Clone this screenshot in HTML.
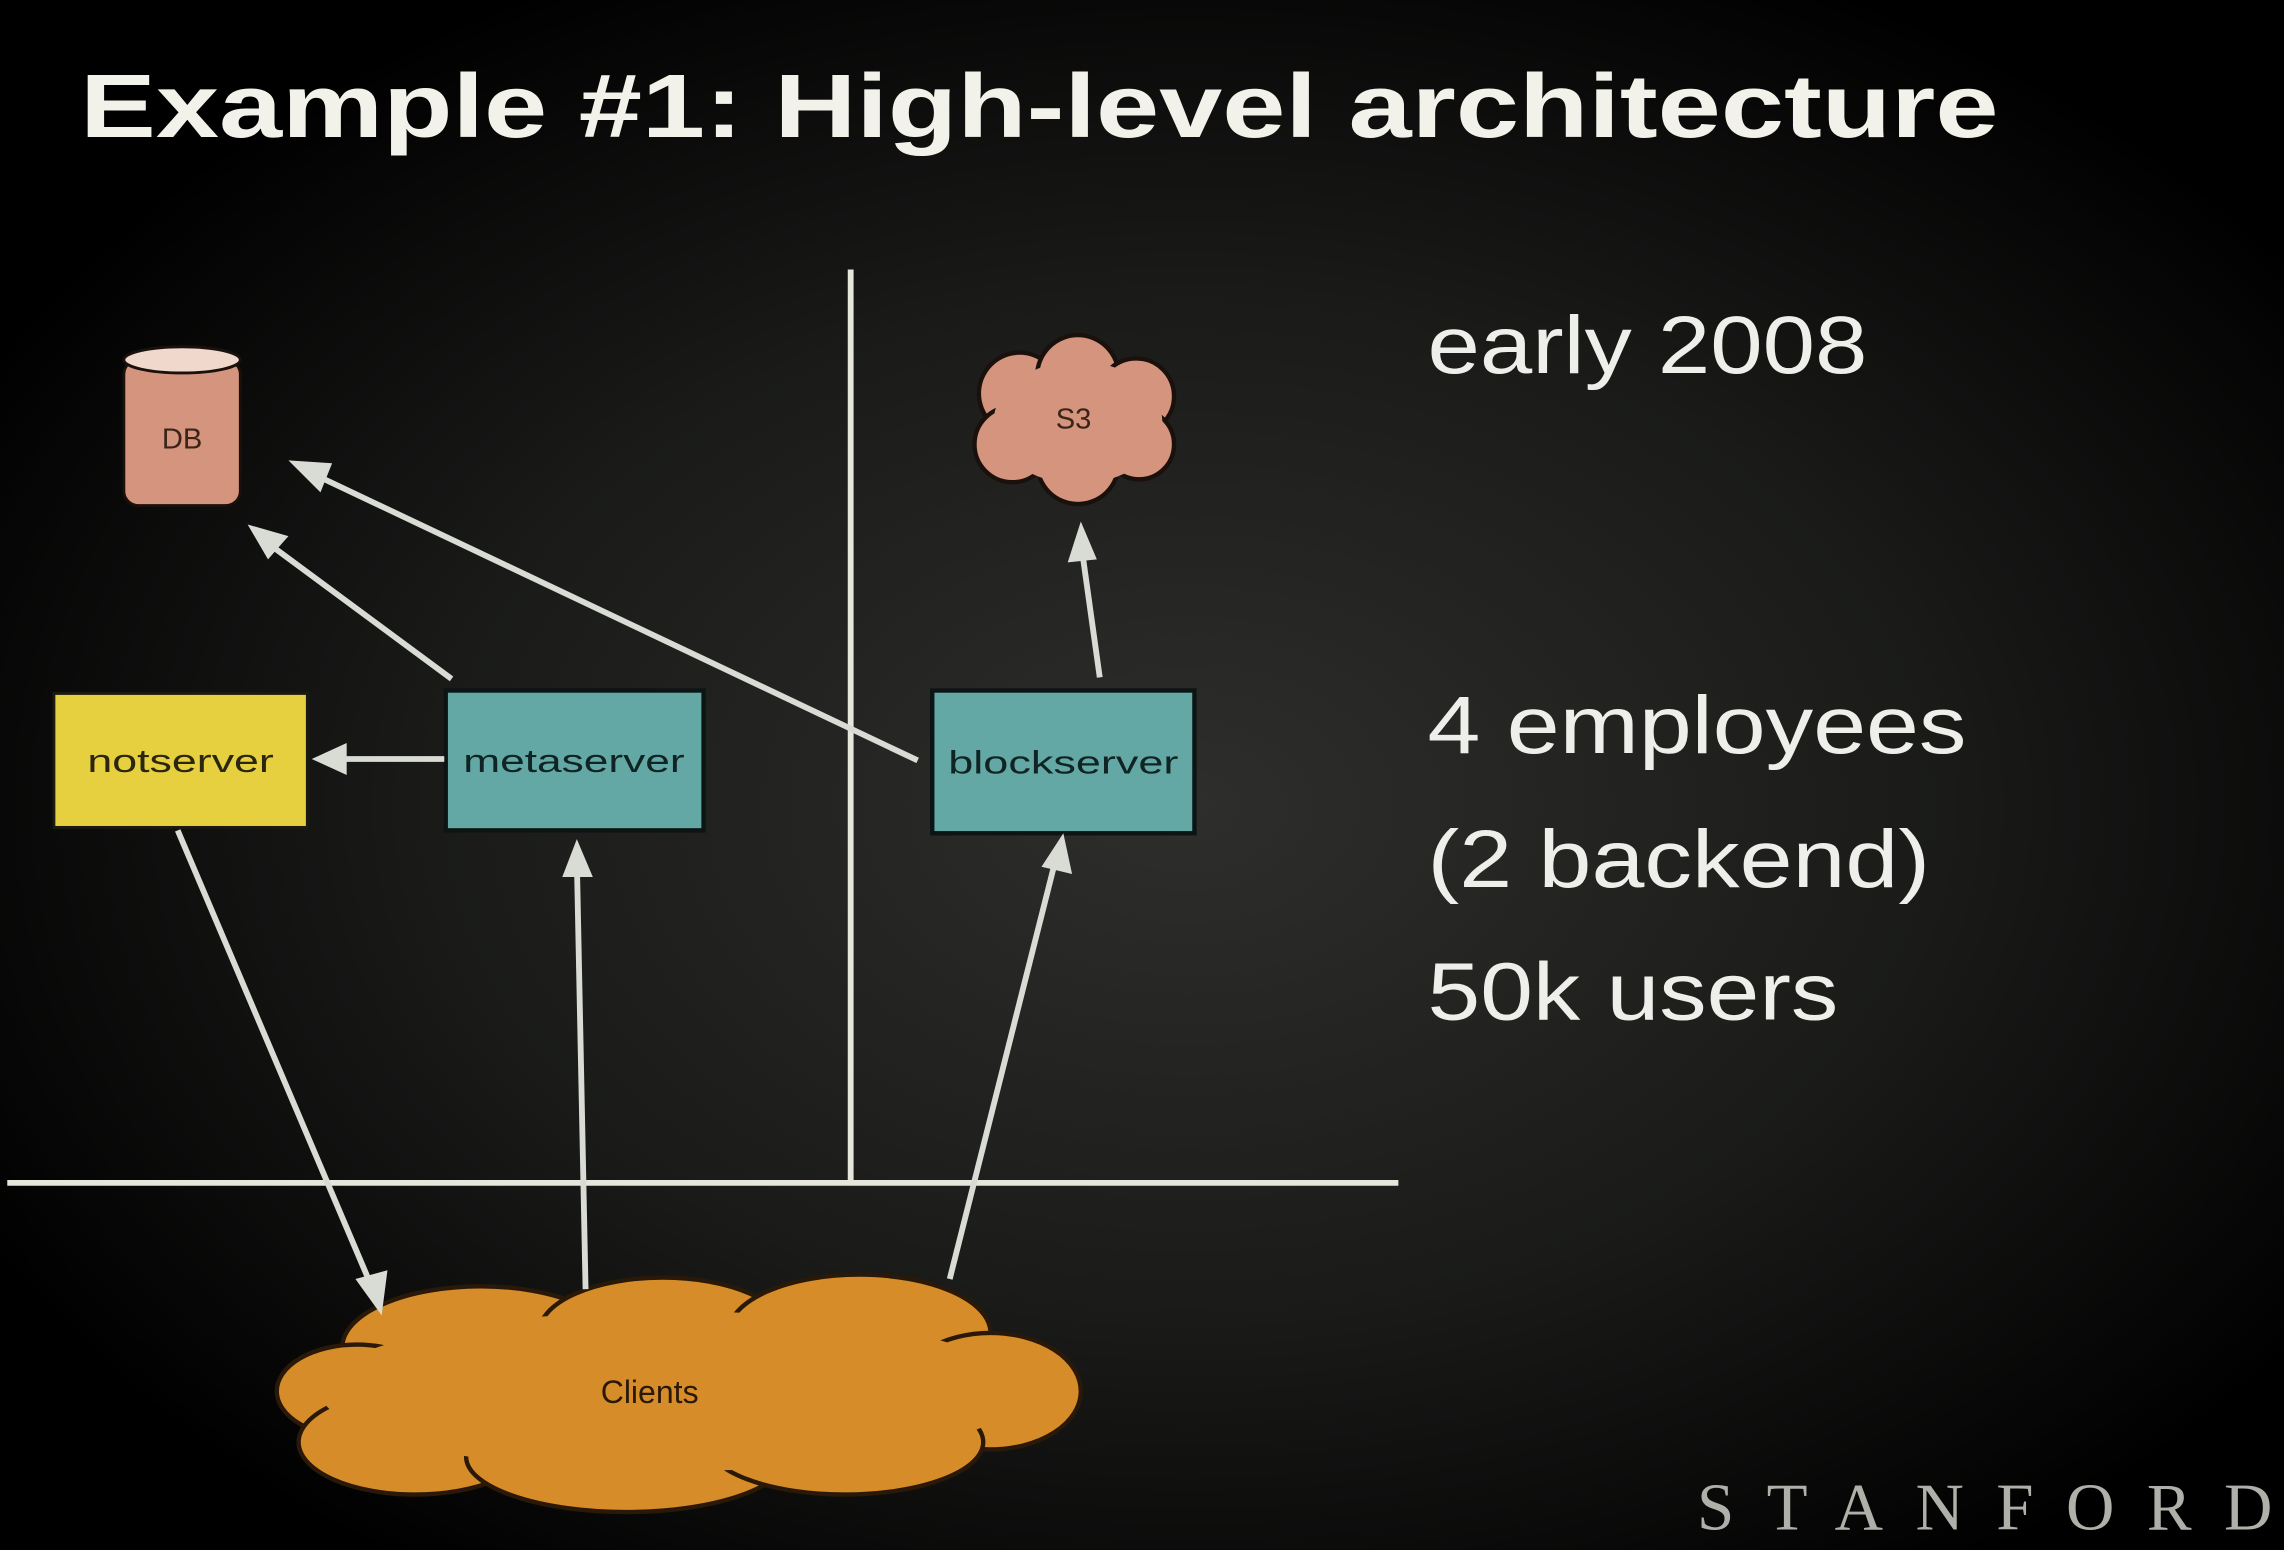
<!DOCTYPE html>
<html><head><meta charset="utf-8"><style>
html,body{margin:0;padding:0;background:#000;}
svg{display:block}
</style></head><body>
<svg width="2284" height="1550" viewBox="0 0 1568 1064" xmlns="http://www.w3.org/2000/svg">
<defs>
<radialGradient id="bg" cx="0.52" cy="0.52" r="0.6">
<stop offset="0" stop-color="#2e2e2c"/>
<stop offset="0.55" stop-color="#1a1b19"/>
<stop offset="1" stop-color="#000"/>
</radialGradient>
</defs>
<rect width="1568" height="1064" fill="url(#bg)"/>
<text x="55" y="94" font-family="Liberation Sans, sans-serif" font-weight="bold" font-size="62" fill="#f2f2ea" textLength="1317" lengthAdjust="spacingAndGlyphs">Example #1: High-level architecture</text>

<g stroke="#e6e6dc" stroke-width="4">
<line x1="584" y1="185" x2="584" y2="812"/>
<line x1="5" y1="812" x2="960" y2="812"/>
</g>

<!-- DB -->
<rect x="85" y="247" width="80" height="100" rx="10" fill="#d4947e" stroke="#1a100c" stroke-width="2"/>
<ellipse cx="125" cy="247" rx="40" ry="9" fill="#f0d8cc" stroke="#1a100c" stroke-width="2"/>
<text x="125" y="308" text-anchor="middle" font-family="Liberation Sans, sans-serif" font-size="20" fill="#3a2418">DB</text>

<!-- S3 cloud -->
<g fill="#d4947e" stroke="#1a100c" stroke-width="3">
<circle cx="700" cy="270" r="28"/><circle cx="740" cy="258" r="28"/><circle cx="780" cy="272" r="26"/>
<circle cx="695" cy="305" r="26"/><circle cx="740" cy="318" r="28"/><circle cx="782" cy="305" r="24"/>
</g>
<g fill="#d4947e"><ellipse cx="740" cy="290" rx="58" ry="42"/></g>
<text x="737" y="294" text-anchor="middle" font-family="Liberation Sans, sans-serif" font-size="20" fill="#3a2418">S3</text>

<!-- boxes -->
<rect x="37" y="476" width="174" height="92" fill="#e6d040" stroke="#1a1a10" stroke-width="2"/>
<text x="124" y="530" text-anchor="middle" font-family="Liberation Sans, sans-serif" font-size="22" fill="#2a2610" textLength="128" lengthAdjust="spacingAndGlyphs">notserver</text>
<rect x="306" y="474" width="177" height="96" fill="#64a8a6" stroke="#0c1414" stroke-width="3"/>
<text x="394" y="530" text-anchor="middle" font-family="Liberation Sans, sans-serif" font-size="22" fill="#102424" textLength="152" lengthAdjust="spacingAndGlyphs">metaserver</text>
<rect x="640" y="474" width="180" height="98" fill="#64a8a6" stroke="#0c1414" stroke-width="3"/>
<text x="730" y="531" text-anchor="middle" font-family="Liberation Sans, sans-serif" font-size="22" fill="#102424" textLength="158" lengthAdjust="spacingAndGlyphs">blockserver</text>

<!-- Clients cloud -->
<g fill="#d68c28" stroke="#2a1808" stroke-width="3">
<ellipse cx="330" cy="925" rx="95" ry="42"/>
<ellipse cx="455" cy="915" rx="85" ry="38"/>
<ellipse cx="590" cy="915" rx="90" ry="40"/>
<ellipse cx="680" cy="955" rx="62" ry="40"/>
<ellipse cx="245" cy="955" rx="55" ry="32"/>
<ellipse cx="285" cy="990" rx="80" ry="36"/>
<ellipse cx="430" cy="1000" rx="110" ry="38"/>
<ellipse cx="580" cy="990" rx="95" ry="36"/>
</g>
<ellipse cx="460" cy="955" rx="240" ry="55" fill="#d68c28"/>
<text x="446" y="963" text-anchor="middle" font-family="Liberation Sans, sans-serif" font-size="22" fill="#2a1808">Clients</text>

<!-- arrows -->
<g stroke="#d8dcd4" stroke-width="4" fill="none">
<line x1="310" y1="466" x2="180" y2="370"/>
<line x1="630" y1="522" x2="208" y2="322"/>
<line x1="305" y1="521" x2="224" y2="521"/>
<line x1="755" y1="465" x2="742" y2="372"/>
<line x1="122" y1="570" x2="258" y2="890"/>
<line x1="402" y1="885" x2="396" y2="590"/>
<line x1="652" y1="878" x2="726" y2="585"/>
</g>
<g fill="#d8dcd4">
<path d="M170,360 L198,368 L184,384 Z"/>
<path d="M198,316 L228,318 L220,338 Z"/>
<path d="M214,521 L238,510 L238,532 Z"/>
<path d="M742,358 L753,384 L733,386 Z"/>
<path d="M262,903 L244,878 L266,872 Z"/>
<path d="M396,576 L407,602 L386,602 Z"/>
<path d="M730,572 L736,600 L715,595 Z"/>
</g>

<g font-family="Liberation Sans, sans-serif" font-size="56" fill="#eeeeea">
<text x="980" y="256" textLength="302" lengthAdjust="spacingAndGlyphs">early 2008</text>
<text x="980" y="517" textLength="370" lengthAdjust="spacingAndGlyphs">4 employees</text>
<text x="980" y="609" textLength="345" lengthAdjust="spacingAndGlyphs">(2 backend)</text>
<text x="980" y="700" textLength="282" lengthAdjust="spacingAndGlyphs">50k users</text>
</g>
<text x="1165" y="1050" font-family="Liberation Serif, serif" font-size="46" fill="#b0b0aa" textLength="395" lengthAdjust="spacing">STANFORD</text>
</svg>
</body></html>
